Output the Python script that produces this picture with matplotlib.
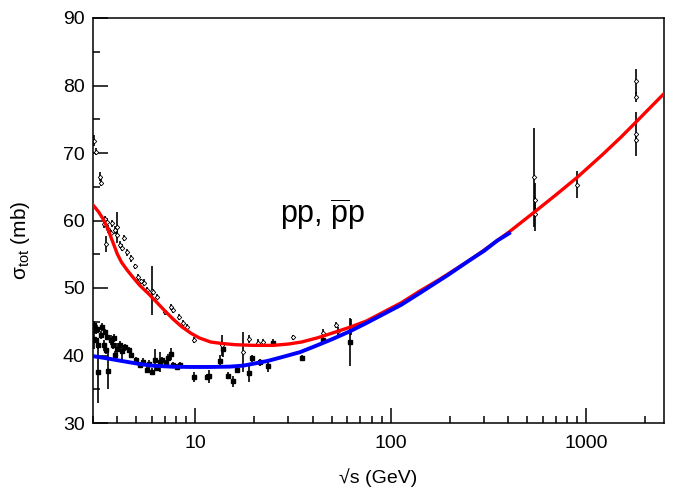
import matplotlib.pyplot as plt
from matplotlib.ticker import LogLocator, FixedLocator, NullFormatter

plt.rcParams['font.family'] = ['Liberation Sans', 'DejaVu Sans']
plt.rcParams['mathtext.fontset'] = 'custom'
plt.rcParams['mathtext.rm'] = 'Liberation Sans'
plt.rcParams['mathtext.it'] = 'Liberation Sans:italic'

# fit curves
pbarp_fit_x = [3.0, 3.2, 3.4, 3.6, 3.8, 4.0, 4.2, 4.5, 4.8, 5.2, 5.7, 6.3, 7.0, 7.7,
               8.5, 9.5, 10.5, 12.0, 13.5, 16.0, 20.0, 25.0, 30.0, 35.0, 42.0, 50.0,
               62.0, 75.0, 90.0, 113, 140, 176, 250, 300, 403, 546, 700, 900, 1200,
               1500, 1800, 2500]
pbarp_fit_y = [62.3, 61.3, 60.1, 58.5, 56.7, 55.0, 53.8, 52.6, 51.6, 50.4, 49.3, 48.0, 46.6, 45.4,
               44.3, 43.3, 42.6, 42.0, 41.8, 41.6, 41.5, 41.5, 41.7, 42.0, 42.6, 43.3,
               44.2, 45.1, 46.3, 47.8, 49.5, 51.2, 54.0, 55.6, 58.3, 61.3, 63.8, 66.4, 69.65,
               72.3, 74.6, 78.8]
pp_fit_x = [3.0, 3.5, 4.0, 4.6, 5.3, 6.0, 7.5, 9.4, 12.0, 15.0, 17.6, 20.0, 23.5, 27.3,
            34.4, 42.0, 50.0, 62.0, 75.0, 90.0, 113, 140, 198, 250, 300, 350, 403]
pp_fit_y = [39.9, 39.6, 39.3, 39.0, 38.7, 38.5, 38.35, 38.3, 38.3, 38.35, 38.5, 38.8, 39.2, 39.7,
            40.5, 41.5, 42.4, 43.6, 44.8, 46.0, 47.5, 49.2, 52.0, 54.0, 55.5, 57.0, 58.1]

# antiproton-proton data
pbarp_x = [3.05, 3.1, 3.25, 3.3, 3.4, 3.5, 3.6, 3.75, 3.9, 3.99, 4.1, 4.3, 4.5, 4.7,
           5.1, 5.3, 5.5, 5.7, 6.0, 6.1, 6.4, 7.0, 7.5, 7.7, 8.3, 8.7, 9.1, 9.8,
           3.45, 3.55, 3.7, 4.0, 4.2, 4.9,
           13.7, 17.6, 18.9, 21.0, 22.3, 31.8, 45.0, 52.8, 53.8, 62.3,
           540, 546, 546, 900, 1800, 1800, 1800, 1800]
pbarp_y = [71.8, 70.2, 66.5, 65.6, 59.5, 56.5, 58.8, 59.6, 58.6, 59.0, 56.4, 57.4, 55.3, 54.4,
           51.6, 51.0, 50.8, 49.7, 49.6, 49.4, 48.7, 46.4, 47.2, 46.7, 45.7, 44.8, 44.2, 42.3,
           60.2, 59.8, 58.2, 57.9, 56.0, 53.2,
           41.5, 40.5, 42.4, 41.9, 42.0, 42.7, 43.4, 44.5, 43.6, 44.2,
           66.4, 63.0, 61.0, 65.3, 80.6, 78.3, 72.8, 72.0]
pbarp_err = [0.8, 0.5, 0.7, 0.5, 0.6, 1.2, 0.6, 0.5, 0.6, 2.3, 0.5, 0.5, 0.5, 0.5,
             0.5, 0.4, 0.5, 0.4, 3.6, 0.5, 0.4, 0.4, 0.4, 0.4, 0.4, 0.4, 0.4, 0.4,
             0.5, 0.5, 0.4, 0.5, 0.5, 0.4,
             1.5, 3.0, 0.6, 0.5, 0.5, 0.4, 0.5, 0.4, 0.6, 1.2,
             7.3, 2.5, 2.5, 2.0, 1.9, 0.7, 3.3, 0.5]

# proton-proton data
pp_x = [3.05, 3.1, 3.1, 3.2, 3.2, 3.3, 3.4, 3.5, 3.6, 3.7, 3.8, 3.9, 4.0, 4.1, 4.2,
        3.02, 3.15, 3.35, 3.45, 3.55, 3.85, 4.35,
        4.6, 4.7, 5.0, 5.2, 5.4, 5.7, 6.0, 6.2, 6.6, 6.8, 7.1, 7.5, 7.7, 8.1, 8.4,
        5.8, 6.4, 7.3,
        9.8, 11.5, 11.7, 13.4, 13.9, 14.7, 15.6, 16.3, 18.9, 19.5, 21.5, 23.5, 25.0,
        35.0, 44.8, 62.0]
pp_y = [42.5, 43.8, 42.3, 37.5, 41.5, 43.0, 41.5, 40.8, 37.7, 42.3, 41.5, 40.1, 41.0, 41.5, 40.6,
        44.5, 44.0, 44.2, 43.5, 42.8, 42.6, 41.2,
        40.8, 40.1, 39.3, 38.6, 39.0, 37.9, 37.6, 39.4, 39.0, 39.3, 38.9, 40.2, 38.6, 38.3, 38.6,
        38.8, 38.2, 39.6,
        36.8, 36.8, 36.9, 39.2, 40.9, 37.0, 36.2, 37.9, 37.4, 39.6, 39.0, 38.5, 41.9,
        39.7, 42.3, 42.0]
pp_err = [1.5, 0.6, 0.5, 4.5, 0.6, 0.6, 0.8, 0.6, 2.6, 0.7, 0.6, 0.5, 0.8, 0.6, 1.2,
          0.6, 0.5, 0.6, 0.5, 0.5, 0.6, 0.5,
          0.5, 0.5, 0.5, 0.5, 0.6, 0.5, 0.5, 1.5, 1.5, 0.5, 0.5, 0.9, 0.5, 0.5, 0.5,
          0.6, 0.5, 0.6,
          0.7, 0.5, 1.0, 0.9, 1.1, 0.5, 0.8, 0.5, 1.3, 0.5, 0.5, 0.9, 0.5,
          0.4, 0.5, 3.5]

fig = plt.figure(figsize=(6.81, 4.91), dpi=100)
ax = fig.add_axes([93 / 681, 1 - 423 / 491, (664 - 93) / 681, (423 - 18) / 491])

ax.errorbar(pp_x, pp_y, yerr=pp_err, fmt='s', color='black', ms=2.3, lw=1.2,
            capsize=0, zorder=2)
ax.errorbar(pbarp_x, pbarp_y, yerr=pbarp_err, fmt='D', color='black', mfc='white',
            ms=2.3, mew=0.6, lw=1.2, capsize=0, zorder=2)

ax.plot(pbarp_fit_x, pbarp_fit_y, color='#ff0000', lw=2.4, zorder=3)
ax.plot(pp_fit_x, pp_fit_y, color='#0000ff', lw=2.8, zorder=4)

ax.set_xscale('log')
ax.set_xlim(3, 2500)
ax.set_ylim(30, 90)

ax.xaxis.set_major_locator(FixedLocator([10, 100, 1000]))
ax.xaxis.set_major_formatter(plt.FuncFormatter(lambda v, p: '%d' % v))
ax.xaxis.set_minor_locator(LogLocator(base=10, subs=range(2, 10), numticks=20))
ax.xaxis.set_minor_formatter(NullFormatter())
ax.set_yticks(range(30, 91, 10))
ax.set_yticks(range(35, 90, 10), minor=True)

ax.tick_params(which='both', direction='in', top=False, right=False, labelsize=14, width=1.1)
ax.tick_params(axis='x', which='major', length=11, pad=9)
ax.tick_params(axis='y', which='major', length=11, pad=6)
ax.tick_params(which='minor', length=5)
for s in ax.spines.values():
    s.set_linewidth(1.1)

ax.set_xlabel('√s (GeV)', fontsize=14, labelpad=11)
ax.set_ylabel(r'σ$_{\mathrm{tot}}$ (mb)', fontsize=15)
ax.yaxis.set_label_coords(-0.107, 0.45)

ax.text(27.3, 59.6, r'pp, $\overline{\mathrm{p}}$p', fontsize=22, ha='left', va='baseline')

fig.savefig('out.png', dpi=100)
